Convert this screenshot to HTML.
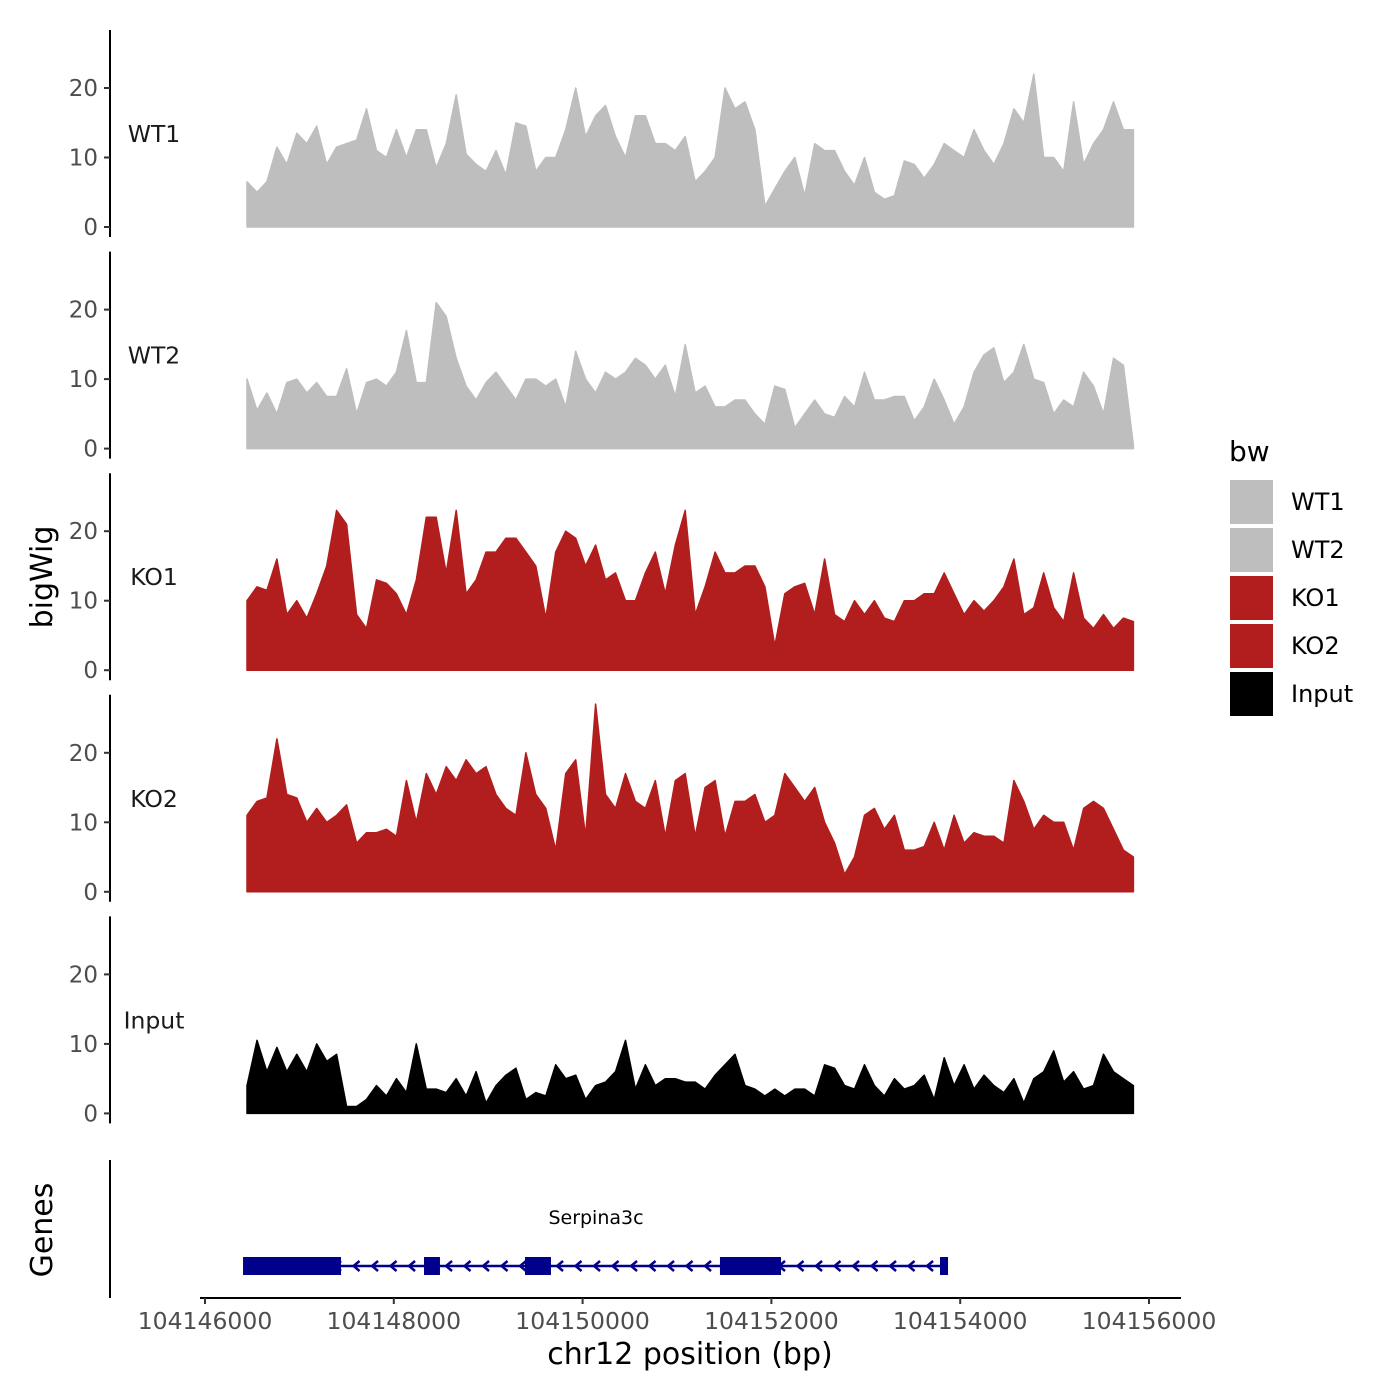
<!DOCTYPE html>
<html><head><meta charset="utf-8"><style>
html,body{margin:0;padding:0;background:#fff;}
svg{display:block;font-family:"DejaVu Sans","Liberation Sans",sans-serif;}
</style></head><body>
<svg id="chart" width="1400" height="1400" viewBox="0 0 1400 1400" xmlns="http://www.w3.org/2000/svg"></svg>
<script>
const tracks = ["WT1","WT2","KO1","KO2","Input"];
const trackColors = ["#bebebe","#bebebe","#b21e1e","#b21e1e","#000000"];
const startBp = 104146445;
const stepBp = 105.5;
const wt1 = [6.5,5,6.5,11.5,9,13.5,12,14.5,9,11.5,12,12.5,17,11,10,14,10,14,14,8.5,12,19,10.5,9,8,11,7.5,15,14.5,8,10,10,14,20,13,16,17.5,13,10,16,16,12,12,11,13,6.5,8,10,20,17,18,14,3,5.5,8,10,4.5,12,11,11,8,6,10,5,4,4.5,9.5,9,7,9,12,11,10,14,11,9,12,17,15,22,10,10,8,18,9,12,14,18,14,14];
const wt2 = [10,5.5,8,5,9.5,10,8,9.5,7.5,7.5,11.5,5,9.5,10,9,11,17,9.5,9.5,21,19,13,9,7,9.5,11,9,7,10,10,9,10,6,14,10,8,11,10,11,13,12,10,12,7.5,15,8,9,6,6,7,7,5,3.5,9,8.5,3,5,7,5,4.5,7.5,6,11,7,7,7.5,7.5,4,6,10,7,3.5,6,11,13.5,14.5,9.5,11,15,10,9.5,5,7,6,11,9,5,13,12,0.5];
const ko1 = [10,12,11.5,16,8,10,7.5,11,15,23,21,8,6,13,12.5,11,8,13,22,22,14,23,11,13,17,17,19,19,17,15,7.5,17,20,19,15,18,13,14,10,10,14,17,11,18,23,8,12,17,14,14,15,15,12,3.5,11,12,12.5,8,16,8,7,10,8,10,7.5,7,10,10,11,11,14,11,8,10,8.5,10,12,16,8,9,14,9,7,14,7.5,6,8,6,7.5,7];
const ko2 = [11,13,13.5,22,14,13.5,10,12,10,11,12.5,7,8.5,8.5,9,8,16,10,17,14,18,16,19,17,18,14,12,11,20,14,12,6,17,19,8,27,14,12,17,13,12,16,8,16,17,8,15,16,8,13,13,14,10,11,17,15,13,15,10,7,2.5,5,11,12,9,11,6,6,6.5,10,6,11,7,8.5,8,8,7,16,13,9,11,10,10,6,12,13,12,9,6,5];
const inputv = [4,10.5,6,9.5,6,8.5,6,10,7.5,8.5,1,1,2,4,2.5,5,3,10,3.5,3.5,3,5,2.5,6,1.5,4,5.5,6.5,2,3,2.5,7,5,5.5,2,4,4.5,6,10.5,3.5,7,4,5,5,4.5,4.5,3.5,5.5,7,8.5,4,3.5,2.5,3.5,2.5,3.5,3.5,2.5,7,6.5,4,3.5,7,4,2.5,5,3.5,4,5.5,2,8,4,7,3.5,5.5,4,3,5,1.5,5,6,9,4.5,6,3.5,4,8.5,6,5,4];
const series = [wt1,wt2,ko1,ko2,inputv];
const yTicks = [0,10,20];
const xTicks = [104146000,104148000,104150000,104152000,104154000,104156000];
const exonStarts = [104146403,104148320,104149390,104151455,104153786];
const exonEnds = [104147441,104148489,104149665,104152102,104153871];
const geneStart = 104146403, geneEnd = 104153871;

const NS="http://www.w3.org/2000/svg";
const svg=document.getElementById('chart');
function mk(tag,attrs,parent){const e=document.createElementNS(NS,tag);for(const k in attrs)e.setAttribute(k,attrs[k]);(parent||svg).appendChild(e);return e;}
const xs = bp => 205 + (bp-104146000)*0.0944;
const panelZero = i => 227 + i*221.6;
const ys = (i,v) => panelZero(i) - v*6.95;

tracks.forEach((name,i)=>{
  const g=mk('g',{});
  
  
  const vals=series[i];
  let d='M'+xs(startBp)+','+panelZero(i);
  vals.forEach((v,j)=>{d+=' L'+xs(startBp+j*stepBp).toFixed(1)+','+ys(i,v).toFixed(1);});
  d+=' L'+xs(startBp+(vals.length-1)*stepBp).toFixed(1)+','+panelZero(i)+' Z';
  const p=mk('path',{d:d,fill:trackColors[i],stroke:trackColors[i],'stroke-width':1.5,'stroke-linejoin':'round'},g);
  
  
  const top=panelZero(i)-197, bot=panelZero(i)+10;
  const ax=mk('line',{x1:110,x2:110,y1:top,y2:bot,stroke:'#000','stroke-width':2},g);
  
  
  yTicks.forEach(t=>{
    const y=ys(i,t);
    mk('line',{x1:104,x2:110,y1:y,y2:y,stroke:'#333','stroke-width':2},g);
    const tx=mk('text',{x:98,y:y+8,'text-anchor':'end','font-size':23,fill:'#4d4d4d'},g);
    tx.textContent=t;
    
    
  });
  const lb=mk('text',{x:154,y:panelZero(i)-85,'text-anchor':'middle','font-size':23.5,fill:'#1a1a1a'},g);
  lb.textContent=name;
  
  
});

const gg=mk('g',{});


mk('line',{x1:110,x2:110,y1:1160,y2:1298,stroke:'#000','stroke-width':2},gg);
const gy=1266;
mk('line',{x1:xs(geneStart),x2:xs(geneEnd),y1:gy,y2:gy,stroke:'#00008b','stroke-width':2.5},gg);
for(let x=xs(geneStart)+20;x<xs(geneEnd)-5;x+=18.5){
  mk('polyline',{points:(x+4)+','+(gy-5)+' '+(x-2)+','+gy+' '+(x+4)+','+(gy+5),fill:'none',stroke:'#00008b','stroke-width':2.5},gg);
}
exonStarts.forEach((s,k)=>{
  const r=mk('rect',{x:xs(s),y:gy-9,width:xs(exonEnds[k])-xs(s),height:18,fill:'#00008b'},gg);
  
  
});
const gl=mk('text',{x:596,y:1224,'text-anchor':'middle','font-size':19,fill:'#000'},gg);
gl.textContent='Serpina3c';



const xg=mk('g',{});


mk('line',{x1:200,x2:1181,y1:1298,y2:1298,stroke:'#000','stroke-width':2},xg);
xTicks.forEach(t=>{
  const x=xs(t);
  mk('line',{x1:x,x2:x,y1:1298,y2:1304,stroke:'#333','stroke-width':2},xg);
  const tx=mk('text',{x:x,y:1329,'text-anchor':'middle','font-size':23.5,fill:'#4d4d4d'},xg);
  tx.textContent=t;
  
  
});
</script>
<script>
(function(){
const svg=document.getElementById('chart');const NS="http://www.w3.org/2000/svg";
function t(x,y,s,txt,name,extra){const e=document.createElementNS(NS,'text');e.setAttribute('x',x);e.setAttribute('y',y);e.setAttribute('font-size',s);e.setAttribute('fill','#000');if(extra)for(const k in extra)e.setAttribute(k,extra[k]);e.textContent=txt;


svg.appendChild(e);return e;}
t(690,1364,30,'chr12 position (bp)','x-axis-title',{'text-anchor':'middle'});
t(52,577,30,'bigWig','y-axis-title',{'text-anchor':'middle',transform:'rotate(-90 52 577)'});
t(52,1230,30,'Genes','genes-axis-title',{'text-anchor':'middle',transform:'rotate(-90 52 1230)'});
t(1229,461,28,'bw','legend-title');
const labs=["WT1","WT2","KO1","KO2","Input"], cols=["#bebebe","#bebebe","#b21e1e","#b21e1e","#000000"];
labs.forEach((l,i)=>{
  const r=document.createElementNS(NS,'rect');
  r.setAttribute('x',1230);r.setAttribute('y',480+i*48);r.setAttribute('width',43);r.setAttribute('height',44);r.setAttribute('fill',cols[i]);
  
  
  svg.appendChild(r);
  t(1291,510+i*48,24,l,'legend-entry');
});
})();
</script>
</body></html>
